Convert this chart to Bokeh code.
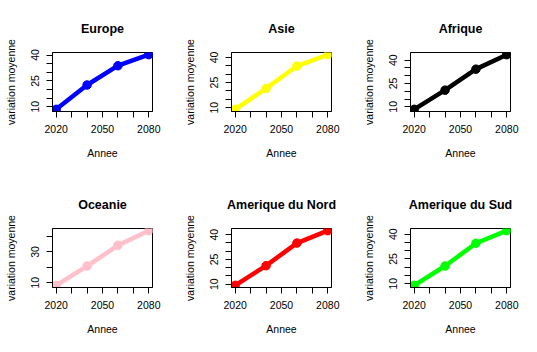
from bokeh.plotting import figure
from bokeh.layouts import gridplot
from bokeh.models import Range1d, FixedTicker
from bokeh.embed import file_html
from bokeh.resources import INLINE

years = [2020, 2040, 2060, 2080]
regions = ["Europe", "Asie", "Afrique", "Oceanie", "Amerique du Nord", "Amerique du Sud"]
europe = [8.5, 22.6, 33.8, 40.2]
asie = [9.0, 21.5, 34.9, 41.7]
afrique = [8.4, 20.7, 34.2, 43.5]
oceanie = [8.3, 20.8, 34.3, 43.8]
amerique_nord = [9.3, 21.2, 34.9, 42.4]
amerique_sud = [9.0, 20.7, 34.5, 42.1]
series = [europe, asie, afrique, oceanie, amerique_nord, amerique_sud]
colors = ["#0000FF", "#FFFF00", "#000000", "#FFC0CB", "#FF0000", "#00FF00"]

x_ticks = [2020, 2030, 2040, 2050, 2060, 2070, 2080]
x_labels = ["2020", "", "", "2050", "", "", "2080"]
y_ticks_a = [10, 15, 20, 25, 30, 35, 40]
y_labels_a = ["10", "", "", "25", "", "", "40"]
y_ticks_b = [10, 20, 30, 40]
y_labels_b = ["10", "", "30", ""]

FONT = "Liberation Sans"

figs = []
for i, (name, vals, col) in enumerate(zip(regions, series, colors)):
    xmin, xmax = min(years), max(years)
    ymin, ymax = min(vals), max(vals)
    dx = 0.04 * (xmax - xmin)
    dy = 0.04 * (ymax - ymin)
    p = figure(width=179, height=176, output_backend="svg", toolbar_location=None,
               x_range=Range1d(xmin - dx, xmax + dx), y_range=Range1d(ymin - dy, ymax + dy),
               min_border_left=52, min_border_right=27, min_border_top=52, min_border_bottom=65)
    p.title.text = name
    p.title.align = "center"
    p.title.text_font = FONT
    p.title.text_font_size = "12.5px"
    p.title.text_font_style = "bold"
    p.title.text_color = "#000000"
    p.title.standoff = 33
    p.xgrid.visible = False
    p.ygrid.visible = False
    p.outline_line_color = "black"
    p.outline_line_width = 1
    p.outline_line_alpha = 1

    p.line(years, vals, line_color=col, line_width=4.5)
    p.scatter(years, vals, size=8.5, fill_color=col, line_color=col)

    yt, yl = (y_ticks_b, y_labels_b) if name == "Oceanie" else (y_ticks_a, y_labels_a)
    for ax, ticks, labels, title in ((p.xaxis[0], x_ticks, x_labels, "Annee"),
                                     (p.yaxis[0], yt, yl, "variation moyenne")):
        ax.ticker = FixedTicker(ticks=ticks)
        ax.major_label_overrides = {t: l for t, l in zip(ticks, labels)}
        ax.minor_tick_line_color = None
        ax.major_tick_in = 0
        ax.major_tick_out = 6
        ax.major_tick_line_color = "black"
        ax.axis_line_color = "black"
        ax.major_label_text_font = FONT
        ax.major_label_text_font_size = "10.5px"
        ax.major_label_text_color = "#000000"
        ax.axis_label = title
        ax.axis_label_text_font = FONT
        ax.axis_label_text_font_size = "10.5px"
        ax.axis_label_text_font_style = "normal"
        ax.axis_label_text_color = "#000000"
    p.xaxis.major_label_standoff = 7
    p.xaxis.axis_label_standoff = 11
    p.yaxis.major_label_orientation = "vertical"
    p.yaxis.major_label_standoff = 7
    p.yaxis.axis_label_standoff = 12
    figs.append(p)

grid = gridplot([figs[0:3], figs[3:6]], toolbar_location=None)
open("out.html", "w").write(file_html(grid, INLINE))
